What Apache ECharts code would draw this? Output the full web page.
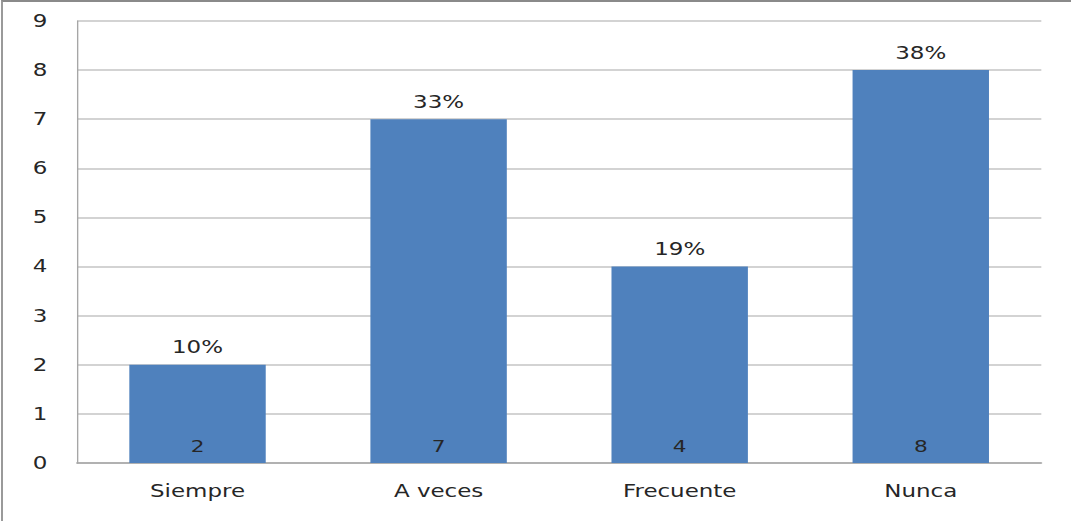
<!DOCTYPE html>
<html>
<head>
<meta charset="utf-8">
<script src="https://cdn.jsdelivr.net/npm/echarts@6/dist/echarts.min.js"></script>
<style>
  html, body { margin: 0; padding: 0; background: #fff; overflow: hidden; }
  #frame {
    position: absolute; left: 1px; top: 0; width: 1075px; height: 530px;
    border-left: 2px solid #9a9a9a; border-top: 2px solid #8a8a8a;
  }
  #chart {
    position: absolute; left: 0; top: 0; width: 793px; height: 521px;
    transform-origin: 0 0; transform: scaleX(1.3506);
  }
</style>
</head>
<body>
<div id="frame"></div>
<div id="chart"></div>
<script>
// Responses per frequency option
const categories = ['Siempre', 'A veces', 'Frecuente', 'Nunca'];
const counts = [2, 7, 4, 8];
const percentLabels = ['10%', '33%', '19%', '38%'];

const textColor = '#262626';
const fontFamily = 'DejaVu Sans';

const chart = echarts.init(document.getElementById('chart'), null, { renderer: 'svg' });
chart.setOption({
  animation: false,
  grid: { left: 57, right: 22, top: 21, bottom: 58 },
  xAxis: {
    type: 'category',
    data: categories,
    axisLine: { lineStyle: { color: '#a6a6a6', width: 1.5 } },
    axisTick: { show: false },
    axisLabel: { color: textColor, fontFamily, fontSize: 17, margin: 20 }
  },
  yAxis: {
    type: 'value',
    min: 0, max: 9, interval: 1,
    axisLine: { show: true, lineStyle: { color: '#a6a6a6', width: 1 } },
    axisTick: { show: false },
    axisLabel: { color: textColor, fontFamily, fontSize: 17, margin: 22 },
    splitLine: { lineStyle: { color: '#c4c4c4', width: 1.5 } }
  },
  series: [
    {
      type: 'bar',
      data: counts,
      barWidth: 101,
      itemStyle: { color: '#4f81bd' },
      label: {
        show: true, position: 'insideBottom', distance: 9,
        color: textColor, fontFamily, fontSize: 16
      },
      z: 2
    },
    {
      // percentage share drawn above each bar
      type: 'bar',
      data: counts,
      barWidth: 101,
      barGap: '-100%',
      itemStyle: { color: 'transparent' },
      label: {
        show: true, position: 'top', distance: 9,
        color: textColor, fontFamily, fontSize: 17,
        formatter: p => percentLabels[p.dataIndex]
      },
      silent: true,
      z: 3
    }
  ]
});
</script>
</body>
</html>
